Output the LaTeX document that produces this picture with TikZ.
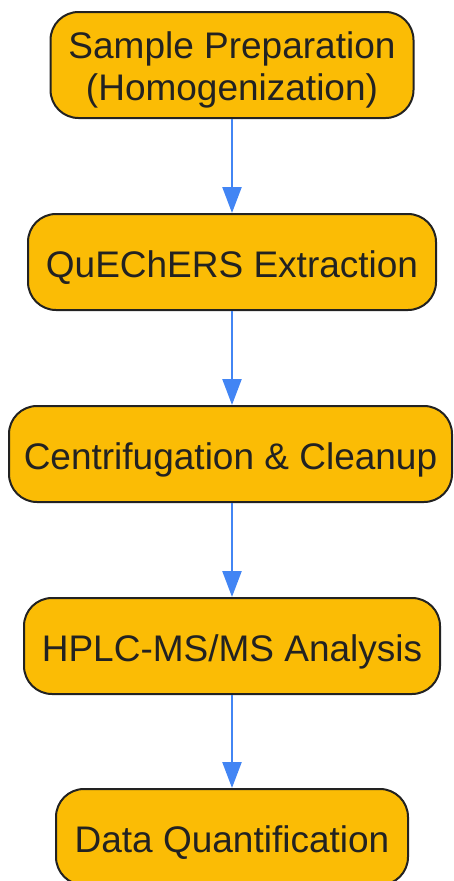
\documentclass[tikz,border=0pt]{standalone}
\usepackage{fontspec}
\setmainfont{Liberation Sans}
\usetikzlibrary{arrows.meta}
\definecolor{boxfill}{HTML}{FBBC05}
\definecolor{boxline}{HTML}{222222}
\definecolor{arrowblue}{HTML}{4285F4}
\definecolor{txt}{HTML}{222222}
\newcommand{\oneline}[1]{\raisebox{0pt}[30pt][0pt]{#1}}
\newcommand{\twolines}[2]{\raisebox{0pt}[0pt][14pt]{\begin{tabular}[t]{@{}c@{}}#1\\#2\end{tabular}}}
\begin{document}
\begin{tikzpicture}[x=1pt,y=-1pt,
  stepbox/.style={draw=boxline, fill=boxfill, line width=2pt, rounded corners=28pt,
    inner sep=0pt, align=center, text=txt,
    font=\fontsize{37}{42}\selectfont},
  flow/.style={draw=arrowblue, line width=2.4pt, -{Triangle[width=19pt,length=26pt]}}]
\useasboundingbox (0,0) rectangle (453,881);
\node[stepbox, minimum width=363pt, minimum height=106pt] (s1) at (232,65) {\twolines{Sample Preparation}{(Homogenization)}};
\node[stepbox, minimum width=408pt, minimum height=96pt] (s2) at (232,262) {\oneline{QuEChERS Extraction}};
\node[stepbox, minimum width=443pt, minimum height=96pt] (s3) at (230.5,454) {\oneline{Centrifugation \& Cleanup}};
\node[stepbox, minimum width=416pt, minimum height=96pt] (s4) at (232,646) {\oneline{HPLC-MS/MS Analysis}};
\node[stepbox, minimum width=352pt, minimum height=96pt] (s5) at (232,837) {\oneline{Data Quantification}};
\draw[flow] (s1.south) -- (s1.south |- s2.north);
\draw[flow] (s2.south) -- (s3.north -| s2.south);
\draw[flow] (s3.south -| s2.south) -- (s4.north);
\draw[flow] (s4.south) -- (s5.north);
\end{tikzpicture}
\end{document}
